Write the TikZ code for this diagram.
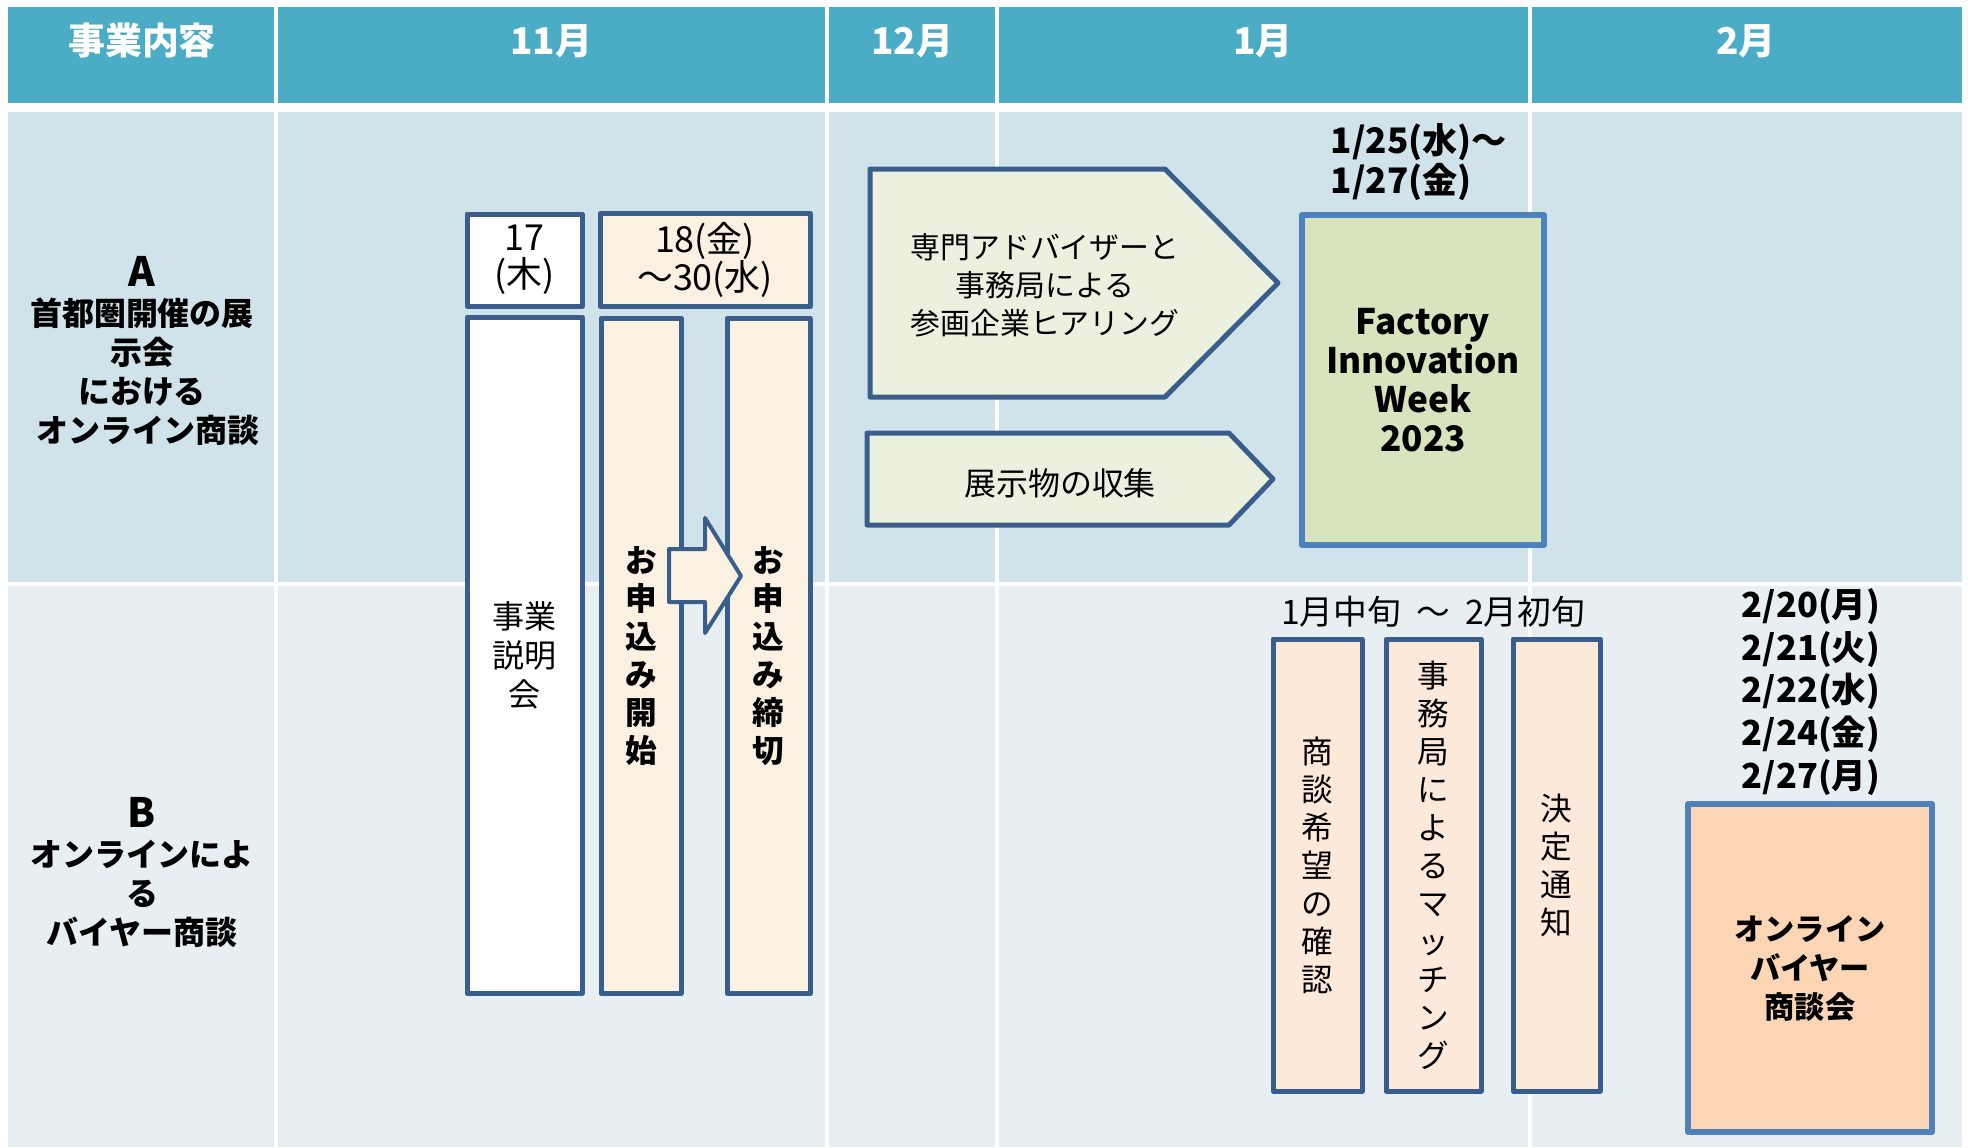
\documentclass[tikz,border=0pt]{standalone}
\usepackage{fontspec}
\setmainfont{Noto Sans CJK JP}
\definecolor{headblue}{HTML}{4BACC6}
\definecolor{rowa}{HTML}{D1E3EA}
\definecolor{rowb}{HTML}{E8EFF3}
\definecolor{edgeblue}{HTML}{3A5E8C}
\definecolor{lightedge}{HTML}{4F81BD}
\definecolor{cream}{HTML}{FAF1E2}
\definecolor{peach}{HTML}{FDE9DA}
\definecolor{salmon}{HTML}{FCD5B4}
\definecolor{leaf}{HTML}{D7E4BD}
\definecolor{pale}{HTML}{EBF1DE}
\begin{document}
\begin{tikzpicture}[x=0.1mm,y=-0.1mm,
  boxstyle/.style={draw=edgeblue,line width=0.5mm,line join=round},
  eventstyle/.style={draw=lightedge,line width=0.6mm,line join=round},
  txtstyle/.style={inner sep=0,align=center,font=\fontsize{9.1pt}{11.1pt}\selectfont},
  boldstyle/.style={inner sep=0,align=center,font=\fontsize{9.1pt}{11.1pt}\selectfont\bfseries},
  vertstyle/.style={inner sep=0,align=center,font=\fontsize{9pt}{10.8pt}\selectfont},
  headstyle/.style={inner sep=0,text=white,font=\fontsize{10.5pt}{12pt}\selectfont\bfseries}]
\useasboundingbox (0,0) rectangle (1968,1147);
% table
\fill[headblue] (8,7) rectangle (1962,103);
\fill[rowa] (8,112) rectangle (1962,582);
\fill[rowb] (8,586) rectangle (1962,1147);
\foreach \cx in {276,827,997,1530}
  \draw[white,line width=0.35mm] (\cx,7) -- (\cx,1147);
\foreach \cx/\lbl [count=\i] in {142/事業内容,551/11月,912/12月,1263/1月,1746/2月}
  \node[headstyle] (head\i) at (\cx,41) {\lbl};
\node[boldstyle] (rowA) at (142,351) {{\fontsize{11.5pt}{12pt}\selectfont A}\\首都圏開催の展\\示会\\における\\\hspace*{1.2mm}オンライン商談};
\node[boldstyle] (rowB) at (142,872) {{\fontsize{11.5pt}{12pt}\selectfont B}\\オンラインによ\\る\\バイヤー商談};

% A / B common
\node[boxstyle,fill=white,txtstyle,font=\fontsize{10.2pt}{10.6pt}\selectfont,minimum width=11.5mm,minimum height=9.2mm] (day17) at (524.5,260) {17\\(木)};
\node[boxstyle,fill=cream,txtstyle,font=\fontsize{10.2pt}{10.6pt}\selectfont,minimum width=21mm,minimum height=9.3mm] (day18) at (705,260) {18(金)\\～30(水)};
\node[boxstyle,fill=white,txtstyle,minimum width=11.5mm,minimum height=67.6mm] (briefing) at (524.5,655) {事業\\説明\\会};
\node[boxstyle,fill=cream,vertstyle,font=\fontsize{9pt}{10.8pt}\selectfont\bfseries,minimum width=8mm,minimum height=67.5mm] (applyopen) at (641,656) {お\\申\\込\\み\\開\\始};
\node[boxstyle,fill=cream,vertstyle,font=\fontsize{9pt}{10.8pt}\selectfont\bfseries,minimum width=8.3mm,minimum height=67.5mm] (applyclose) at (768.5,656) {お\\申\\込\\み\\締\\切};
\draw[boxstyle,line width=0.4mm,fill=cream] (669,549) -- (705,549) -- (705,518) -- (741,576) -- (705,633) -- (705,602) -- (669,602) -- cycle;

% A
\draw[boxstyle,fill=pale] (870,169) -- (1165,169) -- (1278,283) -- (1165,397) -- (870,397) -- cycle;
\node[txtstyle,font=\fontsize{8.5pt}{10.8pt}\selectfont] (hearing) at (1045,285) {専門アドバイザーと\\事務局による\\参画企業ヒアリング};
\draw[boxstyle,fill=pale] (867,433) -- (1229,433) -- (1273,479) -- (1229,525) -- (867,525) -- cycle;
\node[txtstyle,font=\fontsize{9.1pt}{10.8pt}\selectfont] (collect) at (1060,483) {展示物の収集};
\node[boldstyle,align=left,anchor=west,font=\fontsize{10pt}{11.4pt}\selectfont\bfseries] (fiwdate) at (1330,162) {1/25(水)～\\1/27(金)};
\node[eventstyle,fill=leaf,boldstyle,font=\fontsize{10pt}{11.1pt}\selectfont\bfseries,minimum width=24.2mm,minimum height=33mm] (fiw) at (1423,380) {Factory\\Innovation\\Week\\2023};

% B
\node[txtstyle,font=\fontsize{9.6pt}{11pt}\selectfont] (period) at (1433,612) {1月中旬\ \ ～\ \ 2月初旬};
\node[boxstyle,fill=peach,vertstyle,minimum width=8.9mm,minimum height=45.2mm] (confirm) at (1317.5,865) {商\\談\\希\\望\\の\\確\\認};
\node[boxstyle,fill=peach,vertstyle,minimum width=9.5mm,minimum height=45.2mm] (matching) at (1433.5,865) {事\\務\\局\\に\\よ\\る\\マ\\ッ\\チ\\ン\\グ};
\node[boxstyle,fill=peach,vertstyle,minimum width=8.7mm,minimum height=45.2mm] (notice) at (1556.5,865) {決\\定\\通\\知};
\node[boldstyle,font=\fontsize{9.8pt}{12.1pt}\selectfont\bfseries] (meetdates) at (1811,692) {2/20(月)\\2/21(火)\\2/22(水)\\2/24(金)\\2/27(月)};
\node[eventstyle,fill=salmon,boldstyle,font=\fontsize{8.6pt}{11.1pt}\selectfont\bfseries,minimum width=24.4mm,minimum height=32.8mm] (meeting) at (1810,968) {オンライン\\バイヤー\\商談会};
\end{tikzpicture}
\end{document}
